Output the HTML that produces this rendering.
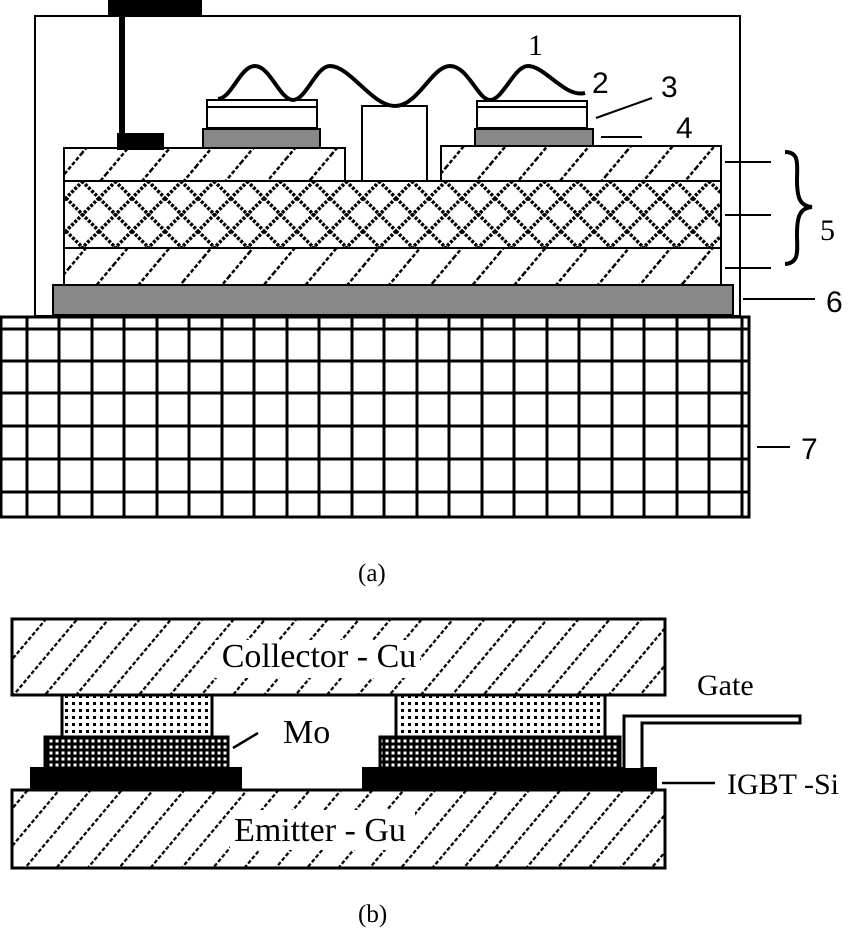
<!DOCTYPE html>
<html><head><style>body{margin:0;background:#fff}svg{display:block}</style></head><body>
<svg width="850" height="933" viewBox="0 0 850 933" xmlns="http://www.w3.org/2000/svg">
<defs>
<pattern id="hat" width="32" height="32" patternUnits="userSpaceOnUse" patternTransform="rotate(40)">
<line x1="0" y1="0" x2="0" y2="32" stroke="#000" stroke-width="5" stroke-dasharray="4,2"/>
</pattern>
<pattern id="hat2" width="24" height="24" patternUnits="userSpaceOnUse" patternTransform="rotate(40)">
<line x1="0" y1="0" x2="0" y2="24" stroke="#000" stroke-width="4.5" stroke-dasharray="4,2"/>
</pattern>
<pattern id="cross" width="33" height="33" patternUnits="userSpaceOnUse">
<path d="M0,0 L33,33 M33,0 L0,33" stroke="#000" stroke-width="3.5" stroke-dasharray="3,1.5"/>
</pattern>
<pattern id="dots" width="7" height="7" patternUnits="userSpaceOnUse">
<rect x="2" y="2" width="3" height="3" fill="#000"/>
</pattern>
<pattern id="dots2" width="6" height="6" patternUnits="userSpaceOnUse">
<rect width="6" height="6" fill="#000"/><rect x="1.5" y="1.5" width="3" height="3" fill="#fff"/>
</pattern>
</defs>
<rect x="35" y="16" width="705" height="300" stroke="#000" fill="none" stroke-width="2"/>
<rect x="108" y="0" width="94" height="15" fill="#000"/>
<rect x="119" y="14" width="6" height="122" fill="#000"/>
<rect x="117" y="133" width="47" height="17" fill="#000"/>
<g stroke="#000" stroke-width="2">
<rect x="64" y="148" width="281" height="33" fill="url(#hat)"/>
<rect x="441" y="146" width="280" height="35" fill="url(#hat)"/>
<rect x="64" y="181" width="657" height="67" fill="url(#cross)"/>
<rect x="64" y="248" width="657" height="37" fill="url(#hat)"/>
<rect x="53" y="285" width="680" height="30" fill="#888"/>
<rect x="203" y="129" width="117" height="19" fill="#888"/>
<rect x="207" y="100" width="110" height="28" fill="#fff"/>
<line x1="207" y1="107" x2="317" y2="107"/>
<rect x="475" y="129" width="118" height="17" fill="#888"/>
<rect x="477" y="101" width="110" height="27" fill="#fff"/>
<line x1="477" y1="107" x2="587" y2="107"/>
<rect x="362" y="106" width="65" height="75" fill="#fff"/>
</g>
<path d="M218,99 C232,98 240,66 255,66 C270,66 280,100 293,100 C306,100 316,66 330,66 C350,66 372,106 395,106 C418,106 432,66 450,66 C468,66 478,100 490,100 C503,100 514,66 528,66 C545,66 565,98 585,93" stroke="#000" stroke-width="4" fill="none"/>
<rect x="1" y="317" width="748" height="200" fill="#fff" stroke="#000" stroke-width="3"/>
<g stroke="#000" stroke-width="3">
<line x1="0" y1="329" x2="750" y2="329"/><line x1="0" y1="361" x2="750" y2="361"/>
<line x1="0" y1="393" x2="750" y2="393"/><line x1="0" y1="426" x2="750" y2="426"/>
<line x1="0" y1="459" x2="750" y2="459"/><line x1="0" y1="492" x2="750" y2="492"/>
<line x1="27" y1="317" x2="27" y2="517"/><line x1="59" y1="317" x2="59" y2="517"/>
<line x1="92" y1="317" x2="92" y2="517"/><line x1="124" y1="317" x2="124" y2="517"/>
<line x1="157" y1="317" x2="157" y2="517"/><line x1="189" y1="317" x2="189" y2="517"/>
<line x1="222" y1="317" x2="222" y2="517"/><line x1="254" y1="317" x2="254" y2="517"/>
<line x1="287" y1="317" x2="287" y2="517"/><line x1="319" y1="317" x2="319" y2="517"/>
<line x1="352" y1="317" x2="352" y2="517"/><line x1="384" y1="317" x2="384" y2="517"/>
<line x1="417" y1="317" x2="417" y2="517"/><line x1="449" y1="317" x2="449" y2="517"/>
<line x1="482" y1="317" x2="482" y2="517"/><line x1="514" y1="317" x2="514" y2="517"/>
<line x1="547" y1="317" x2="547" y2="517"/><line x1="579" y1="317" x2="579" y2="517"/>
<line x1="612" y1="317" x2="612" y2="517"/><line x1="644" y1="317" x2="644" y2="517"/>
<line x1="677" y1="317" x2="677" y2="517"/><line x1="709" y1="317" x2="709" y2="517"/>
<line x1="742" y1="317" x2="742" y2="517"/>
</g>
<g stroke="#000" stroke-width="2">
<line x1="596" y1="118" x2="652" y2="98"/>
<line x1="601" y1="137" x2="642" y2="137"/>
<line x1="725" y1="162" x2="771" y2="162"/>
<line x1="725" y1="215" x2="771" y2="215"/>
<line x1="725" y1="268" x2="771" y2="268"/>
<line x1="743" y1="299" x2="815" y2="299"/>
<line x1="757" y1="447" x2="790" y2="447"/>
</g>
<path d="M785,152 C800,152 797,165 797,180 C797,198 800,206 812,207 C800,208 797,216 797,234 C797,250 800,263 785,264" stroke="#000" stroke-width="4" fill="none"/>
<g font-family="Liberation Serif, serif" font-size="30" fill="#000">
<text x="528" y="55">1</text>
<text x="820" y="240">5</text>
<text x="358" y="581" font-size="25">(a)</text>
<text x="358" y="922" font-size="25">(b)</text>
</g>
<g font-family="Liberation Sans, sans-serif" font-size="30" fill="#000">
<text x="592" y="93">2</text>
<text x="661" y="97">3</text>
<text x="676" y="138">4</text>
<text x="826" y="312">6</text>
<text x="801" y="459">7</text>
</g>
<g stroke="#000" stroke-width="3">
<rect x="12" y="619" width="653" height="76" fill="url(#hat2)"/>
<rect x="12" y="790" width="653" height="78" fill="url(#hat2)"/>
<rect x="62" y="695" width="150" height="42" fill="url(#dots)"/>
<rect x="396" y="695" width="209" height="42" fill="url(#dots)"/>
<rect x="45" y="737" width="183" height="31" fill="url(#dots2)"/>
<rect x="380" y="737" width="240" height="31" fill="url(#dots2)"/>
</g>
<rect x="30" y="767" width="212" height="23" fill="#000"/>
<rect x="362" y="767" width="295" height="23" fill="#000"/>
<path d="M624,768 V716 H800 V723 H642 V768" fill="#fff" stroke="#000" stroke-width="3"/>
<rect x="215" y="640" width="205" height="38" fill="#fff"/>
<rect x="230" y="810" width="185" height="40" fill="#fff"/>
<g stroke="#000" stroke-width="2.5">
<line x1="233" y1="748" x2="258" y2="733"/>
<line x1="662" y1="783" x2="715" y2="783"/>
</g>
<g font-family="Liberation Serif, serif" font-size="34" fill="#000">
<text x="319" y="667" text-anchor="middle">Collector - Cu</text>
<text x="320" y="841" text-anchor="middle">Emitter - Gu</text>
<text x="283" y="743">Mo</text>
<text x="697" y="695" font-size="30">Gate</text>
<text x="727" y="794" font-size="30">IGBT -Si</text>
</g>
</svg>
</body></html>
